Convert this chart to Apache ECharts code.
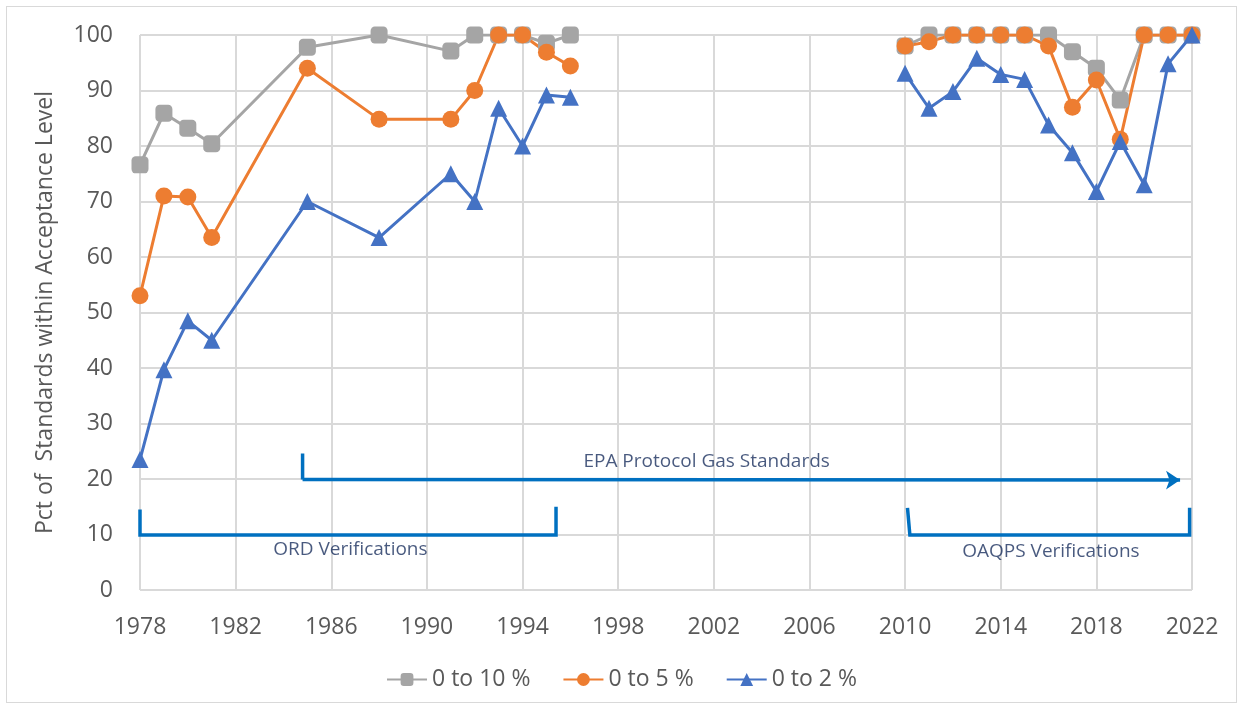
<!DOCTYPE html>
<html>
<head>
<meta charset="utf-8">
<script src="https://cdn.jsdelivr.net/npm/echarts@6/dist/echarts.min.js"></script>
<style>
  html, body { margin: 0; padding: 0; background: #fff; }
  #frame { position: absolute; left: 6px; top: 6px; width: 1231px; height: 697px; border: 1px solid #d9d9d9; box-sizing: border-box; }
  #chart { position: absolute; left: 0; top: 0; width: 1243px; height: 709px; }
</style>
</head>
<body>
<div id="frame"></div>
<div id="chart"></div>
<script>
// years on the x axis
const startYear = 1978
const endYear = 2022
const years = [1978, 1979, 1980, 1981, 1985, 1988, 1991, 1992, 1993, 1994, 1995, 1996,
  null,
  2010, 2011, 2012, 2013, 2014, 2015, 2016, 2017, 2018, 2019, 2020, 2021, 2022]

const within10 = [76.6, 85.9, 83.2, 80.4, 97.8, 100, 97.1, 100, 100, 100, 98.5, 100,
  null,
  98, 100, 100, 100, 100, 100, 100, 97, 94, 88.3, 100, 100, 100]
const within5 = [53, 71, 70.8, 63.5, 94, 84.8, 84.8, 90, 100, 100, 96.9, 94.4,
  null,
  98, 98.8, 100, 100, 100, 100, 98, 87, 91.9, 81.2, 100, 100, 100]
const within2 = [23.5, 39.7, 48.5, 45, 70, 63.5, 75, 70, 86.8, 80, 89.2, 88.8,
  null,
  93.1, 86.8, 89.8, 95.8, 92.9, 92, 83.8, 78.8, 71.8, 80.8, 73, 94.8, 100]

// annotation brackets, in [year, value]
const ordBracket = [[1978, 14.5], [1978, 9.9], [1995.4, 9.9], [1995.4, 15]]
const oaqpsBracket = [[2010.1, 14.8], [2010.2, 9.9], [2021.9, 9.9], [2021.9, 14.8]]
const epaTick = [[1984.8, 24.6], [1984.8, 19.9]]
const epaArrow = [[1984.8, 19.9], [2021.5, 19.8]]
const notes = [
  { year: 2001.7, value: 23.1, text: 'EPA Protocol Gas Standards' },
  { year: 1986.8, value: 7.2, text: 'ORD Verifications' },
  { year: 2016.1, value: 6.9, text: 'OAQPS Verifications' }
]

const grey = '#a5a5a5'
const orange = '#ed7d31'
const blue = '#4472c4'
const noteBlue = '#0070c0'
const noteText = '#1a2f5e'
const labelColor = '#595959'

const toX = (year) => year - startYear

function pairs(values) {
  return years.map((year, i) => (year === null ? [NaN, NaN] : [toX(year), values[i]]))
}

function seriesFor(name, values, color, symbol, size) {
  return {
    name,
    type: 'line',
    data: pairs(values),
    symbol,
    symbolSize: size,
    showAllSymbol: true,
    connectNulls: false,
    lineStyle: { color, width: 3 },
    itemStyle: { color },
    z: 3
  }
}

const chart = echarts.init(document.getElementById('chart'))

chart.setOption({
  animation: false,
  textStyle: { fontFamily: 'Open Sans, Noto Sans, sans-serif' },
  grid: { left: 140, right: 51, top: 35, bottom: 119 },
  legend: {
    top: 663,
    left: 'center',
    itemWidth: 40,
    itemHeight: 16,
    itemGap: 32,
    textStyle: { color: labelColor, fontSize: 23 },
    data: ['0 to 10 %', '0 to 5 %', '0 to 2 %']
  },
  xAxis: {
    type: 'value',
    min: 0,
    max: endYear - startYear,
    interval: 4,
    axisLine: { show: false },
    axisTick: { show: false },
    axisLabel: {
      color: labelColor,
      fontSize: 23,
      margin: 26,
      formatter: (v) => String(v + startYear)
    },
    splitLine: { show: true, lineStyle: { color: '#d9d9d9', width: 2 } }
  },
  yAxis: {
    type: 'value',
    min: 0,
    max: 100,
    interval: 10,
    name: 'Pct of  Standards within Acceptance Level',
    nameLocation: 'middle',
    nameGap: 83,
    nameTextStyle: { color: labelColor, fontSize: 23 },
    axisLine: { show: false },
    axisTick: { show: false },
    axisLabel: { color: labelColor, fontSize: 23, margin: 27 },
    splitLine: { lineStyle: { color: '#d9d9d9', width: 2 } }
  },
  series: [
    seriesFor('0 to 10 %', within10, grey, 'roundRect', 17),
    seriesFor('0 to 5 %', within5, orange, 'circle', 17),
    seriesFor('0 to 2 %', within2, blue, 'triangle', 17),
    {
      type: 'lines',
      coordinateSystem: 'cartesian2d',
      polyline: true,
      silent: true,
      symbol: 'none',
      lineStyle: { color: noteBlue, width: 3.5, opacity: 1 },
      data: [
        { coords: ordBracket.map(([y, v]) => [toX(y), v]) },
        { coords: oaqpsBracket.map(([y, v]) => [toX(y), v]) },
        { coords: epaTick.map(([y, v]) => [toX(y), v]) }
      ],
      z: 2
    },
    {
      type: 'lines',
      coordinateSystem: 'cartesian2d',
      silent: true,
      symbol: ['none', 'arrow'],
      symbolSize: 14,
      lineStyle: { color: noteBlue, width: 3.5, opacity: 1 },
      data: [{ coords: epaArrow.map(([y, v]) => [toX(y), v]) }],
      z: 2
    },
    {
      type: 'scatter',
      silent: true,
      symbolSize: 1,
      itemStyle: { color: 'rgba(0,0,0,0)' },
      label: {
        show: true,
        position: 'inside',
        color: noteText,
        fontSize: 19,
        formatter: (p) => p.data.text
      },
      data: notes.map((n) => ({ value: [toX(n.year), n.value], text: n.text })),
      z: 4
    }
  ]
})
</script>
</body>
</html>
